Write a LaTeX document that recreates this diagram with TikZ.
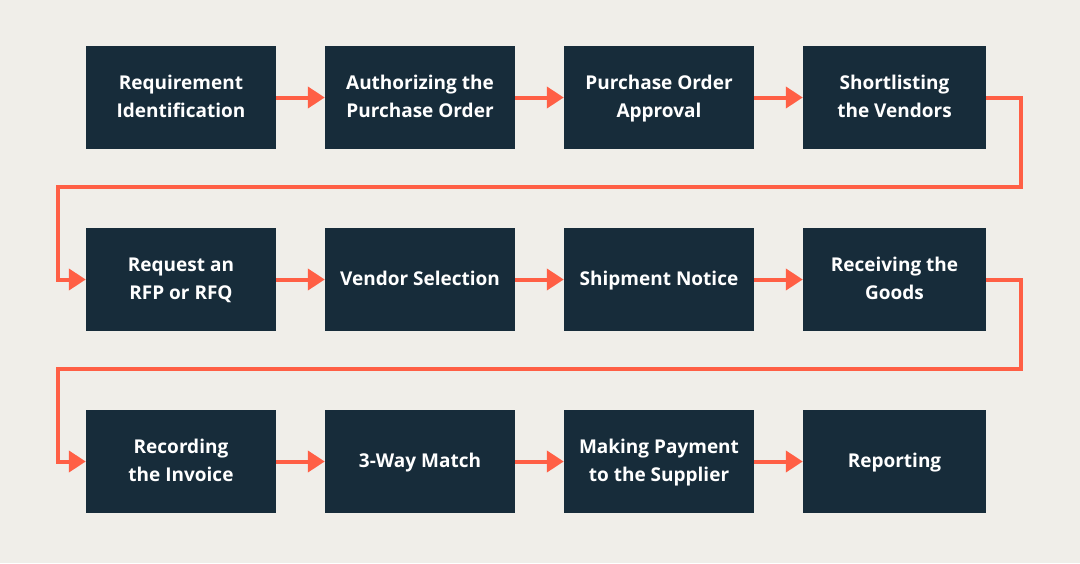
\documentclass[tikz,border=0pt]{standalone}
\usepackage{fontspec}
\setmainfont{Open Sans}
\usetikzlibrary{arrows.meta}
\definecolor{bg}{HTML}{F0EEE9}
\definecolor{box}{HTML}{172C3A}
\definecolor{arr}{HTML}{FF5F45}
\tikzset{
  stepbox/.style={fill=box, text=white, minimum height=103pt, align=center, font=\fontsize{19}{28}\selectfont\bfseries, inner sep=0pt},
  flow/.style={draw=arr, line width=4pt, -{Triangle[length=17pt,width=21pt]}},
}
\newcommand{\lnst}{\strut}
\begin{document}
\begin{tikzpicture}[x=1pt,y=-1pt]
\fill[bg] (0,0) rectangle (1080,563);
\useasboundingbox (0,0) rectangle (1080,563);
\node[stepbox, minimum width=190pt] (b11) at (181,97.5) {Requirement\lnst\\Identification\lnst};
\node[stepbox, minimum width=190pt] (b12) at (420,97.5) {Authorizing the\lnst\\Purchase Order\lnst};
\node[stepbox, minimum width=190pt] (b13) at (659,97.5) {Purchase Order\lnst\\Approval\lnst};
\node[stepbox, minimum width=183pt] (b14) at (894.5,97.5) {Shortlisting\lnst\\the Vendors\lnst};
\node[stepbox, minimum width=190pt] (b21) at (181,279.5) {Request an\lnst\\RFP or RFQ\lnst};
\node[stepbox, minimum width=190pt] (b22) at (420,279.5) {Vendor Selection\lnst};
\node[stepbox, minimum width=190pt] (b23) at (659,279.5) {Shipment Notice\lnst};
\node[stepbox, minimum width=183pt] (b24) at (894.5,279.5) {Receiving the\lnst\\Goods\lnst};
\node[stepbox, minimum width=190pt] (b31) at (181,461.5) {Recording\lnst\\the Invoice\lnst};
\node[stepbox, minimum width=190pt] (b32) at (420,461.5) {3-Way Match\lnst};
\node[stepbox, minimum width=190pt] (b33) at (659,461.5) {Making Payment\lnst\\to the Supplier\lnst};
\node[stepbox, minimum width=183pt] (b34) at (894.5,461.5) {Reporting\lnst};
\foreach \r in {1,2,3}{
  \draw[flow] (b\r1.east) -- (b\r2.west);
  \draw[flow] (b\r2.east) -- (b\r3.west);
  \draw[flow] (b\r3.east) -- (b\r4.west);
}
\coordinate (t1) at (1021,187);
\coordinate (t2) at (1021,369);
\draw[flow] (b14.east) -| (t1) -| (58,279.5) -- (b21.west);
\draw[flow] (b24.east) -| (t2) -| (58,461.5) -- (b31.west);
\end{tikzpicture}
\end{document}
